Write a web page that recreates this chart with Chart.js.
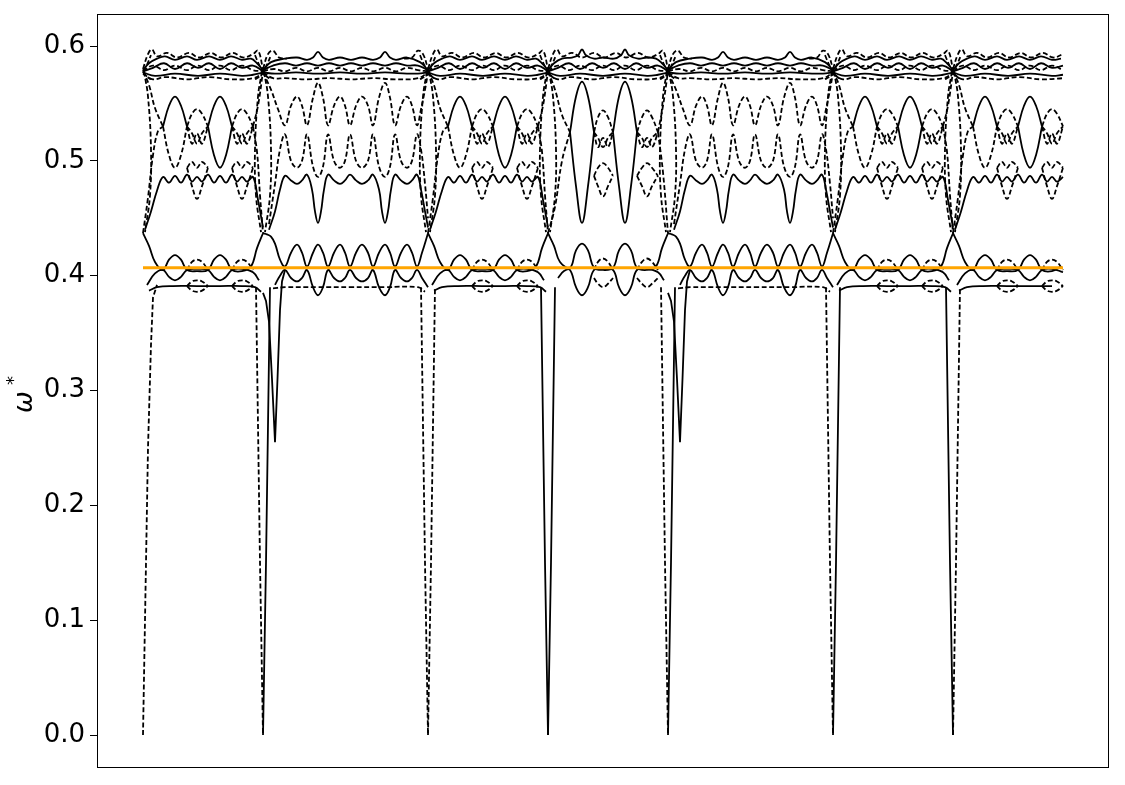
<!DOCTYPE html>
<html><head><meta charset="utf-8">
<script src="https://cdn.jsdelivr.net/npm/chart.js@4.4.1/dist/chart.umd.min.js"></script>
<style>html,body{margin:0;padding:0;background:#fff;}canvas{display:block;}</style>
</head><body>
<canvas id="c" width="1125" height="785"></canvas>
<script>
// ---------- path / axis data ----------
const SEG_START = [0, 120, 285, 405, 525, 690, 810];
const SEG_LEN   = [120, 165, 120, 120, 165, 120, 110];
const SEG_TYPE  = ['I', 'II', 'I', 'D', 'II', 'I', 'I'];
const BOUNDARIES = [0, 120, 285, 405, 525, 690, 810];
const DEEP_DIPS = [120, 525];
const K_MAX = 920;
const Y_TICKS = [0.0, 0.1, 0.2, 0.3, 0.4, 0.5, 0.6];
const ORANGE_LEVEL = 0.407;
const Y_LABEL_MAIN = 'ω';
const Y_LABEL_SUP = '*';

// ---------- type I segment bands (relative k, omega) ----------
const segI_topA = [[[0,.579],[6,.585],[14,.589],[22,.591],[32,.588],[44,.591],[54,.588],[66,.591],[77,.588],[88,.591],[99,.588],[108,.589],[114,.585],[120,.579]]];
const segI_topB = [[[0,.580],[5,.593],[9,.597],[14,.591],[24,.594],[34,.590],[46,.594],[56,.590],[68,.594],[78,.590],[90,.594],[100,.590],[110,.593],[115,.596],[120,.580]]];
const segI_topC = [[[0,.578],[10,.581],[21,.585],[32,.580],[44,.585],[55,.581],[66,.585],[77,.580],[88,.585],[99,.581],[110,.583],[120,.578]]];
const segI_topD = [[[0,.578],[10,.583],[21,.579],[32,.583],[44,.579],[55,.583],[66,.579],[77,.583],[88,.579],[99,.583],[110,.579],[120,.578]]];
const segI_topE = [[[0,.577],[12,.574],[32,.576],[55,.574],[77,.576],[99,.574],[110,.575],[120,.577]]];
const segI_topF = [[[0,.576],[10,.571],[22,.573],[44,.571],[66,.573],[88,.571],[110,.572],[120,.576]]];
const segI_lensUp = [[[20,.530],[26,.548],[32,.556],[38,.548],[44,.530]],[[65,.530],[71,.548],[77,.556],[83,.548],[89,.530]]];
const segI_lensDnDash = [[[20,.530],[26,.505],[32,.494],[38,.505],[44,.530]]];
const segI_lensDnSolid = [[[65,.530],[71,.505],[77,.494],[83,.505],[89,.530]]];
const segI_smallUp = [[[44,.530],[49,.541],[54,.545],[59,.541],[65,.530]],[[89,.530],[94,.541],[99,.545],[104,.541],[110,.530]]];
const segI_crossA = [[[44,.530],[49,.515],[54,.524],[59,.515],[65,.530]],[[89,.530],[94,.515],[99,.524],[104,.515],[110,.530]]];
const segI_crossB = [[[44,.530],[49,.524],[54,.515],[59,.524],[65,.530]],[[89,.530],[94,.524],[99,.515],[104,.524],[110,.530]]];
const segI_wave = [[[2,.440],[8,.456],[14,.474],[20,.486],[26,.481],[32,.487],[38,.481],[44,.488],[49,.482],[54,.486],[59,.482],[65,.488],[71,.481],[77,.487],[83,.481],[89,.488],[94,.482],[99,.486],[104,.482],[110,.486],[115,.466],[120,.442]]];
const segI_lowLensTop = [[[44,.494],[49,.499],[54,.494],[59,.499],[65,.494]],[[89,.494],[94,.499],[99,.494],[104,.499],[110,.494]]];
const segI_lowLensBot = [[[44,.494],[49,.478],[54,.467],[59,.478],[65,.494]],[[89,.494],[94,.478],[99,.467],[104,.478],[110,.494]]];
const segI_connTop = [[[0,.578],[6,.566],[12,.546],[20,.530]],[[110,.530],[115,.548],[120,.578]]];
const segI_connMid = [[[0,.437],[5,.468],[10,.505],[15,.526],[20,.530]],[[110,.530],[114,.508],[117,.470],[120,.437]]];
const segI_lowUp = [[[0,.437],[6,.426],[12,.412],[20,.405],[26,.414],[32,.418],[38,.414],[44,.405],[54,.404],[65,.405],[71,.414],[77,.418],[83,.414],[89,.405],[99,.404],[108,.408],[114,.424],[120,.437]]];
const segI_lowDn = [[[4,.392],[12,.402],[20,.405],[26,.399],[32,.396],[38,.399],[44,.405],[54,.406],[65,.405],[71,.399],[77,.396],[83,.399],[89,.405],[99,.406],[110,.403],[116,.396]]];
const segI_smallLow = [[[44,.405],[49,.412],[54,.414],[59,.412],[65,.405]],[[89,.405],[94,.412],[99,.414],[104,.412],[110,.405]]];
const segI_flat = [[[6,.387],[14,.390],[30,.391],[54,.391],[77,.391],[99,.391],[112,.390],[118,.386]]];
const segI_flatLensDn = [[[44,.391],[49,.387],[54,.386],[59,.387],[65,.391]],[[89,.391],[94,.387],[99,.386],[104,.387],[110,.391]]];
const segI_flatLensUp = [[[44,.391],[49,.395],[54,.396],[59,.395],[65,.391]],[[89,.391],[94,.395],[99,.396],[104,.395],[110,.391]]];

// ---------- type II segment bands ----------
const segII_topA = [[[0,.579],[8,.586],[22,.589],[34,.590],[44,.588],[50,.590],[55,.595],[60,.590],[66,.588],[77,.590],[88,.588],[99,.590],[110,.588],[117,.590],[122,.595],[127,.590],[133,.588],[144,.590],[157,.586],[165,.579]]];
const segII_topB = [[[0,.579],[10,.583],[22,.585],[33,.583],[44,.585],[55,.583],[66,.585],[77,.583],[88,.585],[99,.583],[110,.585],[122,.583],[133,.585],[144,.583],[155,.583],[165,.579]]];
const segII_topC = [[[0,.578],[11,.580],[22,.578],[33,.581],[44,.578],[55,.581],[66,.578],[77,.581],[88,.578],[99,.581],[110,.578],[122,.581],[133,.578],[144,.581],[155,.579],[165,.578]]];
const segII_topD = [[[0,.577],[12,.576],[33,.577],[55,.576],[77,.577],[99,.576],[122,.577],[144,.576],[155,.576],[165,.577]]];
const segII_topE = [[[0,.577],[10,.572],[22,.572],[44,.571],[66,.572],[88,.571],[110,.572],[132,.571],[155,.572],[165,.577]]];
const segII_topSpike = [[[0,.580],[5,.593],[10,.596],[16,.590],[24,.589]],[[141,.589],[149,.590],[155,.596],[160,.593],[165,.580]]];
const segII_upper = [[[0,.577],[8,.562],[15,.545],[22,.531],[28,.548],[34,.556],[39,.548],[44,.531],[50,.555],[55,.568],[60,.555],[65,.531],[71,.548],[77,.556],[82,.548],[87,.531],[93,.548],[99,.556],[105,.548],[110,.531],[116,.555],[122,.568],[127,.555],[132,.531],[138,.548],[144,.556],[149,.548],[154,.531],[158,.545],[162,.562],[165,.577]]];
const segII_middle = [[[6,.445],[12,.480],[17,.510],[22,.523],[28,.500],[34,.494],[39,.500],[44,.523],[50,.495],[55,.486],[60,.495],[65,.523],[71,.500],[77,.494],[82,.500],[87,.523],[93,.500],[99,.494],[105,.500],[110,.523],[116,.495],[122,.486],[127,.495],[132,.523],[138,.500],[144,.494],[149,.500],[154,.523],[158,.510],[162,.480],[165,.450]]];
const segII_band = [[[6,.440],[12,.456],[17,.475],[22,.487],[28,.483],[34,.480],[39,.483],[44,.488],[49,.475],[52,.456],[55,.446],[58,.456],[61,.475],[65,.488],[71,.483],[77,.480],[82,.483],[87,.488],[93,.483],[99,.480],[105,.483],[110,.488],[116,.475],[119,.456],[122,.446],[125,.456],[128,.475],[132,.488],[138,.483],[144,.480],[149,.483],[154,.488],[158,.475],[162,.456],[165,.442]]];
const segII_lowA = [[[0,.437],[4,.436],[8,.434],[12,.428],[17,.414],[22,.408],[28,.420],[34,.427],[39,.420],[44,.408],[50,.420],[55,.427],[60,.420],[65,.408],[71,.420],[77,.427],[82,.420],[87,.408],[93,.420],[99,.427],[105,.420],[110,.408],[116,.420],[122,.427],[127,.420],[132,.408],[138,.420],[144,.427],[149,.420],[154,.408],[159,.420],[165,.437]]];
const segII_lowB = [[[12,.392],[17,.400],[22,.405],[28,.398],[34,.395],[39,.398],[44,.405],[50,.390],[55,.383],[60,.390],[65,.405],[71,.398],[77,.395],[82,.398],[87,.405],[93,.398],[99,.395],[105,.398],[110,.405],[116,.390],[122,.383],[127,.390],[132,.405],[138,.398],[144,.395],[149,.398],[154,.405],[159,.398],[165,.390]]];
const segII_lowC = [[[10,.389],[22,.390],[55,.390],[88,.390],[122,.390],[155,.390],[162,.386]]];

// ---------- type D segment bands ----------
const segD_topA = [[[0,.579],[6,.585],[14,.589],[24,.590],[30,.592],[34,.597],[38,.592],[46,.589],[55,.590],[66,.589],[73,.592],[77,.597],[81,.592],[90,.589],[99,.590],[108,.589],[114,.585],[120,.579]]];
const segD_bigUp = [[[22,.525],[28,.556],[34,.569],[40,.556],[46,.525]],[[65,.525],[71,.556],[77,.569],[83,.556],[89,.525]]];
const segD_bigDn = [[[22,.525],[28,.478],[34,.446],[40,.478],[46,.525]],[[65,.525],[71,.478],[77,.446],[83,.478],[89,.525]]];
const segD_smallUp = [[[46,.525],[50,.538],[55,.544],[60,.538],[65,.525]],[[89,.525],[94,.538],[99,.544],[104,.538],[110,.525]]];
const segD_crossA = [[[46,.525],[50,.512],[55,.520],[60,.512],[65,.525]],[[89,.525],[94,.512],[99,.520],[104,.512],[110,.525]]];
const segD_crossB = [[[46,.525],[50,.520],[55,.512],[60,.520],[65,.525]],[[89,.525],[94,.520],[99,.512],[104,.520],[110,.525]]];
const segD_waveTop = [[[46,.487],[50,.494],[55,.498],[60,.494],[65,.487]],[[89,.487],[94,.494],[99,.498],[104,.494],[110,.487]]];
const segD_waveBot = [[[46,.487],[50,.478],[55,.469],[60,.478],[65,.487]],[[89,.487],[94,.478],[99,.469],[104,.478],[110,.487]]];
const segD_connTop = [[[0,.578],[7,.562],[14,.540],[22,.525]],[[110,.525],[115,.548],[120,.578]]];
const segD_connMid = [[[0,.437],[7,.460],[14,.500],[22,.525]],[[110,.525],[115,.490],[120,.437]]];
const segD_lowUp = [[[0,.437],[6,.426],[12,.412],[22,.407],[28,.422],[34,.428],[40,.422],[46,.407],[55,.405],[65,.407],[71,.422],[77,.428],[83,.422],[89,.407],[99,.405],[108,.408],[114,.424],[120,.437]]];
const segD_lowDn = [[[10,.398],[16,.404],[22,.405],[28,.390],[34,.383],[40,.390],[46,.405],[55,.406],[65,.405],[71,.390],[77,.383],[83,.390],[89,.405],[99,.406],[110,.403],[116,.396]]];
const segD_smallLow = [[[46,.405],[50,.412],[55,.415],[60,.412],[65,.405]],[[89,.405],[94,.412],[99,.415],[104,.412],[110,.405]]];
const segD_lensLow = [[[46,.398],[50,.393],[55,.390],[60,.393],[65,.398]],[[89,.398],[94,.393],[99,.390],[104,.393],[110,.398]]];

// ---------- structures at the path corners (relative k) ----------
const bnd_parenL = [[[-1,.578],[-5,.556],[-8,.510],[-7,.470],[-2,.438]]];
const bnd_parenR = [[[1,.578],[5,.556],[8,.510],[7,.470],[2,.438]]];
const bnd_knotA = [[[-8,.592],[-3,.582],[0,.578],[3,.574],[8,.571]]];
const bnd_knotB = [[[-8,.571],[-3,.574],[0,.578],[3,.582],[8,.592]]];
const bnd_dipL = [[[-7,.390],[-5.5,.300],[-3,.150],[0,0]]];
const bnd_dipR = [[[0,0],[3,.150],[5.5,.300],[7,.390]]];
const start_dip = [[[0,0],[2,.100],[5,.250],[8,.340],[10,.381],[14,.392]]];
const deep_dip = [[[0,.385],[3,.378],[6,.360],[9,.310],[12,.255],[14.5,.310],[17,.370],[19,.395],[22,.405]]];

// ---------- build datasets ----------
const S = false, D = true;
const DASH = [5, 2.6];
const datasets = [];
function add(pieces, offset, maxR, dashed, tension) {
  for (const piece of pieces) {
    const pts = piece
      .filter(p => p[0] <= maxR && offset + p[0] >= 0 && offset + p[0] <= K_MAX)
      .map(p => ({ x: offset + p[0], y: p[1] }));
    if (pts.length < 2) continue;
    datasets.push({
      data: pts, borderColor: '#000', borderWidth: 1.8,
      borderDash: dashed ? DASH : [], pointRadius: 0, tension: tension,
      fill: false, order: 1
    });
  }
}
const TEMPLATES = {
  I: [[segI_topA,S],[segI_topB,D],[segI_topC,S],[segI_topD,D],[segI_topE,S],[segI_topF,D],
      [segI_lensUp,S],[segI_lensDnDash,D],[segI_lensDnSolid,S],[segI_smallUp,D],[segI_crossA,D],[segI_crossB,D],
      [segI_wave,S],[segI_lowLensTop,D],[segI_lowLensBot,D],[segI_connTop,D],[segI_connMid,D],
      [segI_lowUp,S],[segI_lowDn,S],[segI_smallLow,D],[segI_flat,S],[segI_flatLensDn,D],[segI_flatLensUp,D]],
  II: [[segII_topA,S],[segII_topB,S],[segII_topC,D],[segII_topD,S],[segII_topE,D],[segII_topSpike,D],
       [segII_upper,D],[segII_middle,D],[segII_band,S],[segII_lowA,S],[segII_lowB,S],[segII_lowC,D]],
  D: [[segD_topA,S],[segI_topB,D],[segI_topC,S],[segI_topD,D],[segI_topE,S],[segI_topF,D],
      [segD_bigUp,S],[segD_bigDn,S],[segD_smallUp,D],[segD_crossA,D],[segD_crossB,D],
      [segD_waveTop,D],[segD_waveBot,D],[segD_connTop,D],[segD_connMid,D],
      [segD_lowUp,S],[segD_lowDn,S],[segD_smallLow,D],[segD_lensLow,D]]
};
SEG_START.forEach((s, i) => {
  for (const [arr, dashed] of TEMPLATES[SEG_TYPE[i]]) add(arr, s, SEG_LEN[i], dashed, 0.4);
});
const DIP_STYLE = { 120: [D, S], 285: [D, D], 405: [S, S], 525: [D, S], 690: [D, S], 810: [S, D] };
BOUNDARIES.forEach(b => {
  add(bnd_knotA, b, Infinity, D, 0.4);
  add(bnd_knotB, b, Infinity, D, 0.4);
  add(bnd_parenR, b, Infinity, D, 0.4);
  if (b === 0) {
    add(start_dip, b, Infinity, D, 0);
  } else {
    add(bnd_parenL, b, Infinity, D, 0.4);
    add(bnd_dipL, b, Infinity, DIP_STYLE[b][0], 0);
    add(bnd_dipR, b, Infinity, DIP_STYLE[b][1], 0);
  }
});
DEEP_DIPS.forEach(b => add(deep_dip, b, Infinity, S, 0));
datasets.push({
  data: [{ x: 0, y: ORANGE_LEVEL }, { x: K_MAX, y: ORANGE_LEVEL }],
  borderColor: '#FFA500', borderWidth: 3, pointRadius: 0, tension: 0, fill: false, order: 0
});

// ---------- plugins ----------
const frame = {
  id: 'frame',
  afterDraw(chart) {
    const a = chart.chartArea, ctx = chart.ctx;
    ctx.save();
    ctx.strokeStyle = '#000'; ctx.lineWidth = 1;
    ctx.strokeRect(a.left + 0.5, a.top + 0.5, a.right - a.left - 1, a.bottom - a.top - 1);
    ctx.restore();
  }
};
const yTitle = {
  id: 'yTitle',
  afterDraw(chart) {
    const ctx = chart.ctx;
    ctx.save();
    ctx.translate(32, 402);
    ctx.rotate(-Math.PI / 2);
    ctx.fillStyle = '#000';
    ctx.font = 'italic 26px "DejaVu Sans"';
    ctx.textAlign = 'center';
    ctx.textBaseline = 'alphabetic';
    ctx.fillText(Y_LABEL_MAIN, 0, 0);
    const w = ctx.measureText(Y_LABEL_MAIN).width;
    ctx.font = '18px "DejaVu Sans"';
    ctx.textAlign = 'left';
    ctx.fillText(Y_LABEL_SUP, w / 2 + 6, -13);
    ctx.restore();
  }
};

new Chart(document.getElementById('c'), {
  type: 'line',
  data: { datasets },
  options: {
    responsive: false, animation: false, devicePixelRatio: 1,
    layout: { padding: { top: 14, right: 16, bottom: 17, left: 0 } },
    plugins: { legend: { display: false }, tooltip: { enabled: false } },
    scales: {
      x: { type: 'linear', min: -46, max: 966, display: false },
      y: {
        type: 'linear', min: -0.0287, max: 0.6279,
        afterBuildTicks: s => { s.ticks = Y_TICKS.map(v => ({ value: v })); },
        afterFit: s => { s.width = 97; s.paddingTop = 0; s.paddingBottom = 0; },
        ticks: { color: '#000', padding: 5, autoSkip: false,
                 font: { family: 'DejaVu Sans', size: 26 },
                 callback: v => Number(v).toFixed(1) },
        grid: { drawOnChartArea: false, drawTicks: true, tickLength: 7, color: '#000', tickColor: '#000', lineWidth: 1 },
        border: { display: false }
      }
    }
  },
  plugins: [frame, yTitle]
});
</script>
</body></html>
